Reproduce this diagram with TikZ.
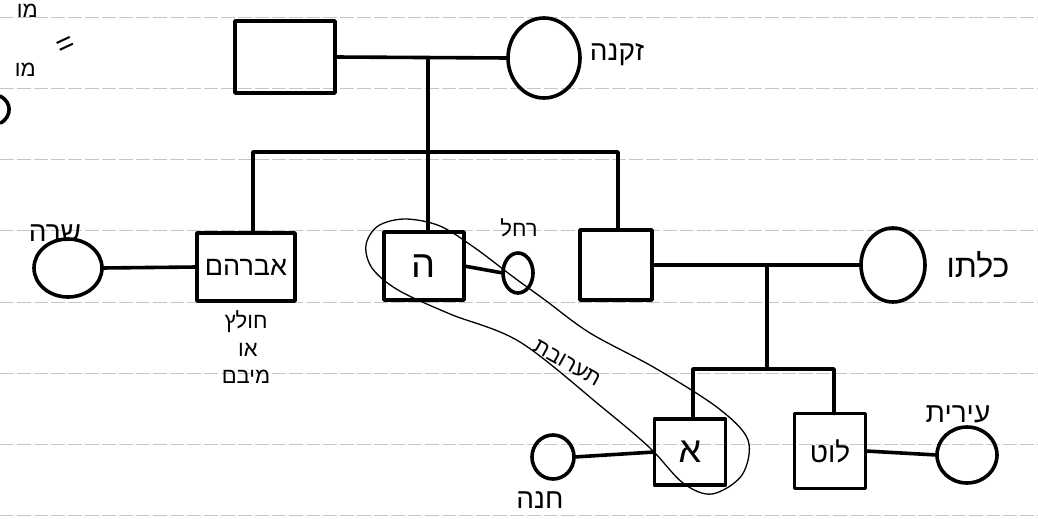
\documentclass[tikz,border=0pt]{standalone}
\usepackage{fontspec}
\setmainfont{Liberation Sans}
\newfontfamily\hebfont[Script=Hebrew]{Liberation Sans}
\TeXXeTstate=1
\usetikzlibrary{shapes.geometric}

\tikzset{
  stroke/.style={line width=3.6pt, line join=round, line cap=round},
  male/.style={stroke, draw, rectangle, inner sep=0pt, outer sep=0pt},
  female/.style={stroke, draw, ellipse, inner sep=0pt, outer sep=0pt},
  lbl/.style={font=\hebfont\fontsize{28}{28}\selectfont, inner sep=0pt},
  smalllbl/.style={font=\hebfont\fontsize{22}{22}\selectfont, inner sep=0pt},
  ruling/.style={draw=gray!45, line width=0.9pt, dash pattern=on 14pt off 3pt},
  loopline/.style={line width=1.3pt, line join=round}
}

\begin{document}
\begin{tikzpicture}[x=1pt, y=-1pt]
  \useasboundingbox (0,0) rectangle (1038,519);
  \clip (0,0) rectangle (1038,519);
  \fill[white] (0,0) rectangle (1038,519);

  % ruled notebook lines
  \foreach \yy in {17,88,159,230,302,373,444,515}
    \draw[ruling] (0,\yy) -- (1038,\yy);

  % margin notes
  \node[smalllbl, anchor=north east] (tl1) at (38,4) {\beginR מו\endR};
  \node[font=\fontsize{30}{30}\selectfont, inner sep=0pt, rotate=25] (eq) at (66,46) {=};
  \node[smalllbl, anchor=east] (tl2) at (36,70) {\beginR מו\endR};
  \draw[stroke] (0,96) .. controls (12,102) and (12,116) .. (1,123);

  % first generation
  \node[male, minimum width=100pt, minimum height=72pt] (m1) at (285,57) {};
  \node[female, minimum width=72pt, minimum height=80pt] (f1) at (544,58) {};
  \node[lbl] (f1name) at (617,55) {\beginR זקנה\endR};
  \draw[stroke] (m1.east) -- (f1.west);
  \coordinate (c1) at (428,60);
  \coordinate (s1) at (428,152);

  % second generation
  \node[male, minimum width=98pt, minimum height=68pt] (abr) at (246,267)
    {\fontsize{27}{27}\selectfont\hebfont\beginR אברהם\endR};
  \node[female, minimum width=68pt, minimum height=58pt] (sarah) at (68,268) {};
  \node[lbl] (sarahname) at (55,233) {\beginR שרה\endR};
  \node[smalllbl] (n1) at (246,322) {\beginR חולץ\endR};
  \node[smalllbl] (n2) at (248,350) {\beginR או\endR};
  \node[smalllbl] (n3) at (246,377) {\beginR מיבם\endR};

  \node[male, minimum width=80pt, minimum height=68pt] (hey) at (424,266)
    {\fontsize{38}{38}\selectfont\hebfont ה};
  \node[female, minimum width=30pt, minimum height=40pt] (rachel) at (518,273) {};
  \node[smalllbl] (rachelname) at (519,228) {\beginR רחל\endR};

  \node[male, minimum width=72pt, minimum height=70pt] (nahor) at (616,265) {};
  \node[female, minimum width=64pt, minimum height=74pt] (kal) at (893,265) {};
  \node[font=\hebfont\fontsize{32}{32}\selectfont, inner sep=0pt] (kalname) at (978,265) {\beginR כלתו\endR};

  \draw[stroke] (c1) -- (hey.north -| c1);
  \draw[stroke] ([xshift=7pt]abr.north) |- (s1) -| ([xshift=2pt]nahor.north);
  \draw[stroke] (sarah.east) -- (abr.west);
  \draw[stroke] (hey.east) -- (rachel.west);
  \draw[stroke] (nahor.east) -- (kal.west);
  \coordinate (c2) at (767,266);
  \coordinate (s2) at (767,369);
  \draw[stroke] (c2) -- (s2);

  % third generation
  \node[male, minimum width=71pt, minimum height=66pt] (alef) at (690,452)
    {\fontsize{36}{36}\selectfont\hebfont א};
  \node[male, minimum width=71pt, minimum height=75pt] (lot) at (830,451)
    {\fontsize{28}{28}\selectfont\hebfont\beginR לוט\endR};
  \node[female, minimum width=42pt, minimum height=44pt] (hanna) at (553,457) {};
  \node[lbl] (hannaname) at (540,500) {\beginR חנה\endR};
  \node[female, minimum width=60pt, minimum height=56pt] (irit) at (967,455) {};
  \node[lbl] (iritname) at (958,414) {\beginR עירית\endR};

  \draw[stroke] ([xshift=3pt]alef.north) |- (s2) -| ([xshift=4pt]lot.north);
  \draw[stroke] (hanna.east) -- (alef.west);
  \draw[stroke] (lot.east) -- (irit.west);

  % the loop around ה and א
  \draw[loopline] plot[smooth cycle, tension=0.55] coordinates {
    (366,245) (378,226) (405,219) (440,226) (475,248) (512,276)
    (545,300) (590,333) (655,368) (718,408) (748,440) (742,475)
    (712,494) (683,483) (650,448) (603,408) (520,342) (450,314)
    (398,290) (372,268)};
  \node[smalllbl, rotate=-29] (mix) at (567,363) {\beginR תערובת\endR};
\end{tikzpicture}
\end{document}
